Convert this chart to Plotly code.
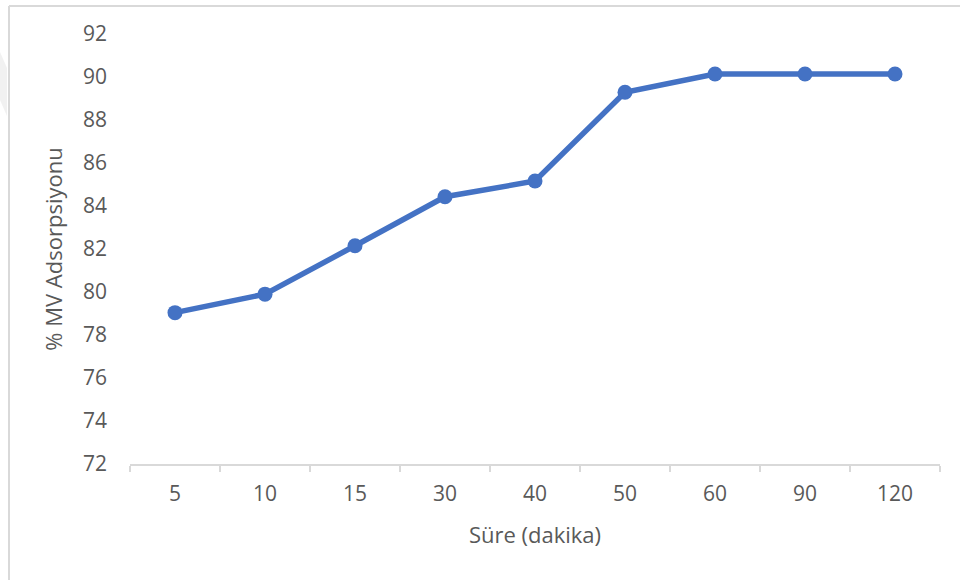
import plotly.graph_objects as go

categories = ["5", "10", "15", "30", "40", "50", "60", "90", "120"]
adsorption = [79.04, 79.9, 82.15, 84.43, 85.16, 89.29, 90.14, 90.14, 90.14]
y_ticks = [72, 74, 76, 78, 80, 82, 84, 86, 88, 90, 92]

W, H = 960, 580
L, R, T, B = 130, 20, 34, 116
pw, ph = W - L - R, H - T - B

def px(x):
    return (x - L) / pw

def py(y):
    return (H - B - y) / ph

fig = go.Figure()
fig.add_trace(go.Scatter(
    x=categories, y=adsorption, mode="lines+markers",
    line=dict(color="#4472C4", width=5.5),
    marker=dict(color="#4472C4", size=15),
    showlegend=False, hoverinfo="x+y",
))

font_family = "Open Sans, Lato, sans-serif"
fig.update_layout(
    width=W, height=H,
    margin=dict(l=L, r=R, t=T, b=B, autoexpand=False),
    paper_bgcolor="white", plot_bgcolor="white",
    font=dict(family=font_family, color="#595959", size=21),
    xaxis=dict(
        type="category", categoryorder="array", categoryarray=categories,
        showline=True, linecolor="#D9D9D9", linewidth=1.5,
        ticks="outside", tickson="boundaries", ticklen=6, tickcolor="#D9D9D9", tickwidth=1.5,
        showgrid=False, zeroline=False,
        tickfont=dict(size=21, color="#595959"),
        ticklabelstandoff=10,
        title=dict(text="Süre (dakika)", font=dict(size=22, color="#595959"), standoff=22),
        range=[-0.5, len(categories) - 0.5],
    ),
    yaxis=dict(
        range=[72, 92], tickvals=y_ticks, ticktext=[str(v) for v in y_ticks],
        showline=False, showgrid=False, zeroline=False, ticks="",
        tickfont=dict(size=21, color="#595959"),
        ticklabelstandoff=22,
        title=dict(text="% MV Adsorpsiyonu", font=dict(size=22, color="#595959"), standoff=14),
    ),
    shapes=[
        dict(type="line", xref="paper", yref="paper",
             x0=px(9), x1=px(960), y0=py(6), y1=py(6),
             line=dict(color="#D9D9D9", width=2)),
        dict(type="line", xref="paper", yref="paper",
             x0=px(9), x1=px(9), y0=py(6), y1=py(580),
             line=dict(color="#D9D9D9", width=2)),
        dict(type="path", xref="paper", yref="paper",
             path=f"M {px(0)},{py(52)} L {px(7)},{py(68)} L {px(7)},{py(116)} L {px(0)},{py(100)} Z",
             fillcolor="rgba(210,210,210,0.3)", line=dict(width=0)),
    ],
)

fig.write_html("out.html", config={"displayModeBar": False},
               post_script="document.body.style.margin='0';")
